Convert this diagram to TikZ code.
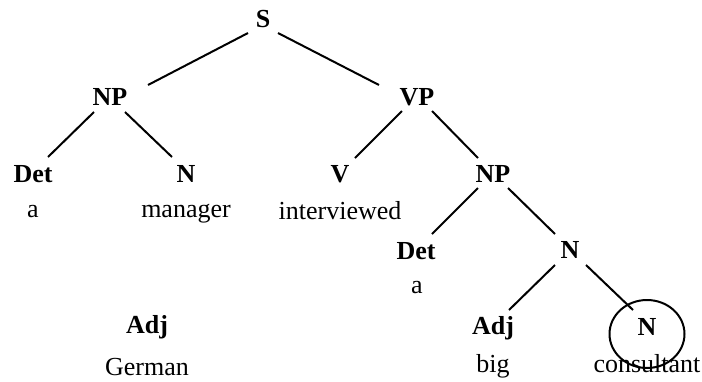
\documentclass[tikz,border=0pt]{standalone}
\usepackage{fontspec}
\setmainfont{Liberation Serif}
\usetikzlibrary{calc,shapes.geometric}
\begin{document}
\begin{tikzpicture}[x=1pt,y=-1pt,
  cat/.style={anchor=base,inner sep=0pt,font=\fontsize{26}{30}\selectfont\bfseries},
  word/.style={anchor=base,inner sep=0pt,font=\fontsize{26}{30}\selectfont},
  branch/.style={line width=2pt},
  ring/.style={draw,ellipse,line width=2pt,minimum width=75pt,minimum height=68pt,inner sep=0pt}]
\useasboundingbox (0,0) rectangle (702,381);

% categories
\node[cat] (s)    at (263,27)  {S};
\node[cat] (np1)  at (110,105) {NP};
\node[cat] (vp)   at (417,105) {VP};
\node[cat] (det1) at (33,182)  {Det};
\node[cat] (n1)   at (186,182) {N};
\node[cat] (v)    at (340,182) {V};
\node[cat] (np2)  at (493,182) {NP};
\node[cat] (det2) at (416,259) {Det};
\node[cat] (n2)   at (570,258) {N};
\node[cat] (adj1) at (147,333) {Adj};
\node[cat] (adj2) at (493,334) {Adj};
\node[cat] (n3)   at (647,335) {N};

% words
\node[word] (wa1)  at (33,217)  {a};
\node[word] (wman) at (186,217) {manager};
\node[word] (wint) at (340,219) {interviewed};
\node[word] (wa2)  at (417,293) {a};
\node[word] (wger) at (147,375) {German};
\node[word] (wbig) at (493,372) {big};
\node[word] (wcon) at (647,372) {consultant};

% highlighted head noun
\node[ring] (hl) at (647,334) {};

% branches
\draw[branch] ($(s.base)+(-15,6)$)   -- ($(np1.base)+(38,-20)$);
\draw[branch] ($(s.base)+(15,6)$)    -- ($(vp.base)+(-38,-20)$);
\draw[branch] ($(np1.base)+(-16,7)$) -- ($(det1.base)+(15,-25)$);
\draw[branch] ($(np1.base)+(15,7)$)  -- ($(n1.base)+(-14,-25)$);
\draw[branch] ($(vp.base)+(-15,6)$)  -- ($(v.base)+(15,-24)$);
\draw[branch] ($(vp.base)+(15,6)$)   -- ($(np2.base)+(-15,-24)$);
\draw[branch] ($(np2.base)+(-15,6)$) -- ($(det2.base)+(16,-25)$);
\draw[branch] ($(np2.base)+(15,6)$)  -- ($(n2.base)+(-15,-24)$);
\draw[branch] ($(n2.base)+(-15,7)$)  -- ($(adj2.base)+(16,-24)$);
\draw[branch] ($(n2.base)+(16,7)$)   -- ($(n3.base)+(-14,-25)$);
\end{tikzpicture}
\end{document}
